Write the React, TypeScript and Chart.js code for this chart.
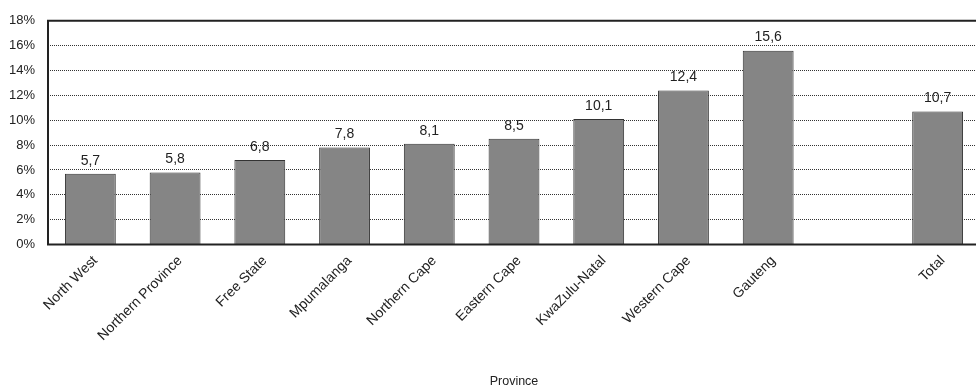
import React, { useEffect, useRef } from "react";
import { Chart, registerables } from "chart.js";

Chart.register(...registerables);

const categories: string[] = [
  "North West",
  "Northern Province",
  "Free State",
  "Mpumalanga",
  "Northern Cape",
  "Eastern Cape",
  "KwaZulu-Natal",
  "Western Cape",
  "Gauteng",
  "",
  "Total",
];
const values: (number | null)[] = [5.7, 5.8, 6.8, 7.8, 8.1, 8.5, 10.1, 12.4, 15.6, null, 10.7];
const yTicks: number[] = [0, 2, 4, 6, 8, 10, 12, 14, 16, 18];
const xTitle = "Province";

const FONT = "'Liberation Sans', Arial, sans-serif";

const framePlugin = {
  id: "frame",
  afterDatasetsDraw(chart: any) {
    const { ctx, chartArea } = chart;
    ctx.save();
    // data labels
    const meta = chart.getDatasetMeta(0);
    ctx.fillStyle = "#222";
    ctx.font = `14px ${FONT}`;
    ctx.textAlign = "center";
    ctx.textBaseline = "middle";
    meta.data.forEach((el: any, i: number) => {
      const v = values[i];
      if (v === null || v === undefined) return;
      ctx.fillText(v.toFixed(1).replace(".", ","), el.x, el.y - 13);
    });
    // frame
    ctx.strokeStyle = "#222";
    ctx.lineWidth = 2;
    ctx.beginPath();
    ctx.moveTo(chartArea.right + 5, chartArea.top);
    ctx.lineTo(chartArea.left, chartArea.top);
    ctx.lineTo(chartArea.left, chartArea.bottom);
    ctx.lineTo(chartArea.right + 5, chartArea.bottom);
    ctx.stroke();
    ctx.restore();
  },
};

export default function App() {
  const ref = useRef<HTMLCanvasElement | null>(null);
  useEffect(() => {
    if (!ref.current) return;
    const chart = new Chart(ref.current, {
      type: "bar",
      data: {
        labels: categories,
        datasets: [
          {
            data: values as any,
            backgroundColor: "#858585",
            borderColor: "#333333",
            borderWidth: 1,
            categoryPercentage: 1,
            barPercentage: 0.6,
          },
        ],
      },
      options: {
        animation: false,
        responsive: false,
        devicePixelRatio: 1,
        layout: { padding: { top: 13, right: 0, left: 0, bottom: 0 } },
        plugins: { legend: { display: false }, tooltip: { enabled: false } },
        scales: {
          x: {
            grid: { display: false, drawTicks: false },
            border: { display: false },
            ticks: {
              color: "#222",
              font: { family: FONT, size: 14 },
              maxRotation: 45,
              minRotation: 45,
              padding: 8,
              labelOffset: 5,
              autoSkip: false,
            },
            title: {
              display: true,
              text: xTitle,
              color: "#222",
              font: { family: FONT, size: 12.5 },
              padding: { top: 0, bottom: -2 },
            },
            afterFit(scale: any) {
              scale.height = 142.5;
            },
          },
          y: {
            min: 0,
            max: 18,
            grid: {
              color: "#333",
              lineWidth: 1,
              drawTicks: false,
            },
            border: { display: false, dash: [1, 1] },
            afterBuildTicks(scale: any) {
              scale.ticks = yTicks.map((v) => ({ value: v }));
            },
            ticks: {
              color: "#222",
              font: { family: FONT, size: 13 },
              padding: 13,
              callback: (v: any) => `${v}%`,
            },
            afterFit(scale: any) {
              scale.width = 48;
            },
          },
        },
      },
      plugins: [framePlugin],
    });
    return () => chart.destroy();
  }, []);
  return (
    <div
      style={{
        position: "fixed",
        left: 0,
        top: 0,
        width: 976,
        height: 387,
        overflow: "hidden",
        background: "#fff",
      }}
    >
      <canvas ref={ref} width={980} height={387} style={{ width: 980, height: 387, display: "block" }} />
    </div>
  );
}
